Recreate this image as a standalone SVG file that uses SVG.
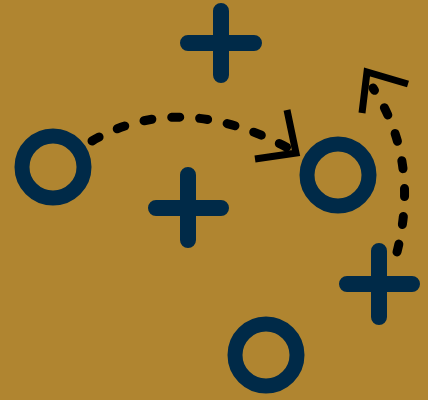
<svg xmlns="http://www.w3.org/2000/svg" width="428" height="400" viewBox="0 0 428 400">
<style>
.ring{fill:none;stroke:#002A48;stroke-width:15}
.plus{fill:none;stroke:#002A48;stroke-width:16;stroke-linecap:round}
.dash{fill:none;stroke:#000;stroke-width:9;stroke-linecap:round;stroke-dasharray:8 20}
.head{fill:none;stroke:#000;stroke-width:7;stroke-linecap:butt;stroke-linejoin:miter}
</style>
<rect width="428" height="400" fill="#B08530"/>
<g id="o1"><circle class="ring" cx="53" cy="167" r="31"/></g>
<g id="o2"><circle class="ring" cx="338" cy="175" r="31"/></g>
<g id="o3"><circle class="ring" cx="266" cy="355" r="31"/></g>
<g id="x1"><path class="plus" d="M221,11V75M188,43H254"/></g>
<g id="x2"><path class="plus" d="M188,175V240M156,208H221"/></g>
<g id="x3"><path class="plus" d="M379,251V317M347,284H412"/></g>
<g id="connectors">
<path class="dash" d="M92,141 Q180,90 288,148"/>
<path class="head" d="M287,110 L296,153 L255,159"/>
<path class="dash" d="M397,252 Q420,160 373,88"/>
<path class="head" d="M408,84 L367,72 L362,113"/>
</g>
</svg>
